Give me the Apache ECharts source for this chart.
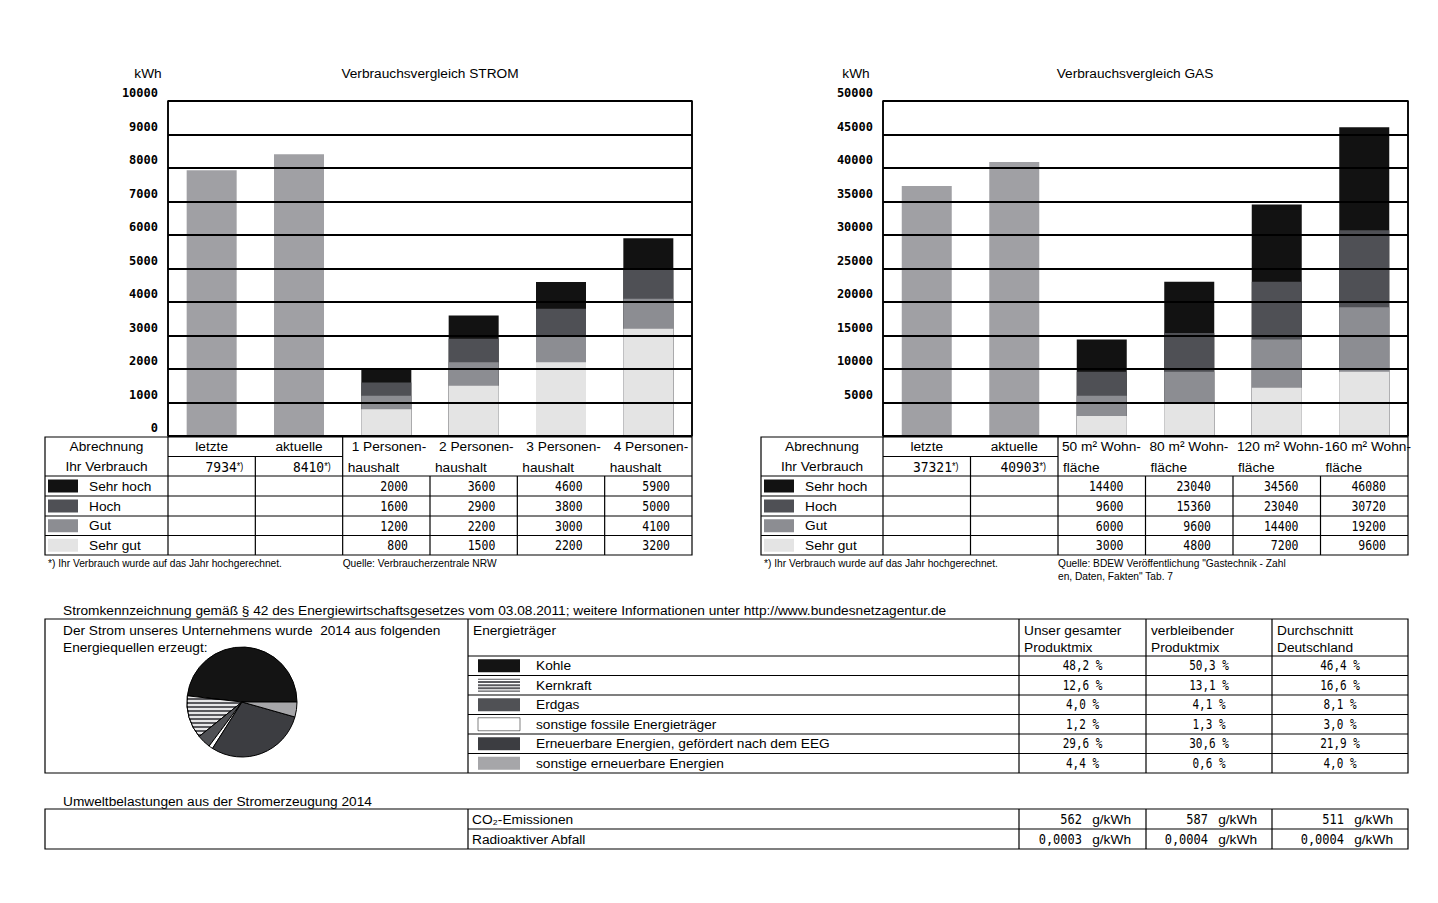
<!DOCTYPE html>
<html>
<head>
<meta charset="utf-8">
<title>Verbrauchsvergleich STROM / GAS und Stromkennzeichnung</title>
<script src="https://cdn.jsdelivr.net/npm/echarts@6/dist/echarts.min.js"></script>
<style>
  html, body { margin: 0; padding: 0; background: #fff; }
  #main { width: 1438px; height: 903px; }
</style>
</head>
<body>
<div id="main"></div>
<script>
// ---------- Daten ----------
const levels = ['Sehr hoch', 'Hoch', 'Gut', 'Sehr gut'];

const stromCategories = ['letzte', 'aktuelle', '1 Personen-\nhaushalt', '2 Personen-\nhaushalt', '3 Personen-\nhaushalt', '4 Personen-\nhaushalt'];
const stromIhrVerbrauch = [7934, 8410];
const stromSehrHoch = [2000, 3600, 4600, 5900];
const stromHoch = [1600, 2900, 3800, 5000];
const stromGut = [1200, 2200, 3000, 4100];
const stromSehrGut = [800, 1500, 2200, 3200];
const stromTicks = [0, 1000, 2000, 3000, 4000, 5000, 6000, 7000, 8000, 9000, 10000];

const gasCategories = ['letzte', 'aktuelle', '50 m² Wohn-\nfläche', '80 m² Wohn-\nfläche', '120 m² Wohn-\nfläche', '160 m² Wohn-\nfläche'];
const gasIhrVerbrauch = [37321, 40903];
const gasSehrHoch = [14400, 23040, 34560, 46080];
const gasHoch = [9600, 15360, 23040, 30720];
const gasGut = [6000, 9600, 14400, 19200];
const gasSehrGut = [3000, 4800, 7200, 9600];
const gasTicks = [0, 5000, 10000, 15000, 20000, 25000, 30000, 35000, 40000, 45000, 50000];

const mixNames = ['Kohle', 'Kernkraft', 'Erdgas', 'sonstige fossile Energieträger', 'Erneuerbare Energien, gefördert nach dem EEG', 'sonstige erneuerbare Energien'];
const mixColumns = ['Unser gesamter\nProduktmix', 'verbleibender\nProduktmix', 'Durchschnitt\nDeutschland'];
const mixUnser = [48.2, 12.6, 4.0, 1.2, 29.6, 4.4];
const mixVerbleibend = [50.3, 13.1, 4.1, 1.3, 30.6, 0.6];
const mixDeutschland = [46.4, 16.6, 8.1, 3.0, 21.9, 4.0];

const umweltNames = ['CO₂-Emissionen', 'Radioaktiver Abfall'];
const umweltUnser = ['562', '0,0003'];
const umweltVerbleibend = ['587', '0,0004'];
const umweltDeutschland = ['511', '0,0004'];

// ---------- Stil ----------
const SANS = '"Liberation Sans", Arial, sans-serif';
const MONO = '"DejaVu Sans Mono", "Liberation Mono", monospace';
const FS = 13.7;
const ihrColor = '#a0a0a4';
const levelColors = ['#121212', '#4f5055', '#8c8d92', '#e4e4e4'];
const mixColors = ['#141414', '#5a5a5e', '#505155', '#ffffff', '#3c3d41', '#a6a6a9'];

const graphics = [];

function addLine(x1, y1, x2, y2, w) {
  graphics.push({ type: 'line', silent: true, z: 30, shape: { x1, y1, x2, y2 },
    style: { stroke: '#000', lineWidth: w || 1.2 } });
}
function addBox(x, y, w, h, fill, lw) {
  graphics.push({ type: 'rect', silent: true, z: 30, shape: { x, y, width: w, height: h },
    style: { fill: fill || 'none', stroke: lw ? '#000' : null, lineWidth: lw || 0 } });
}
function addText(x, y, text, opt) {
  opt = opt || {};
  const style = {
    text, fill: '#000',
    fontSize: opt.size || FS, fontFamily: opt.family || SANS, fontWeight: opt.weight || 'normal',
    align: opt.align || 'left', verticalAlign: 'middle',
    textAlign: opt.align || 'left', textVerticalAlign: 'middle'
  };
  if (opt.rich) style.rich = opt.rich;
  const el = { type: 'text', silent: true, z: 31, x, y, style };
  if (opt.sy) { el.scaleY = opt.sy; el.originX = 0; el.originY = 0; }
  graphics.push(el);
}
// schmale, hohe Ziffern wie im Original
const num = (x, y, s, align, size) => addText(x, y, s, { align, family: MONO, size: size || 11.5, sy: 1.22 });
const pct = v => v.toFixed(1).replace('.', ',') + ' %';

// Tabelle unter den Balkendiagrammen
function drawConsumptionTable(x0, gridLeft, gridWidth, cats, ihr, values, hdrPad, foot, source) {
  const cw = gridWidth / cats.length;
  const cx = i => gridLeft + i * cw;
  const right = gridLeft + gridWidth;
  const ys = [437, 456.5, 476, 496, 516, 535.5, 555];
  const mid = r => (ys[r] + ys[r + 1]) / 2;

  addBox(x0, ys[0], right - x0, ys[6] - ys[0], null, 1.2);
  addLine(cx(0), ys[0], cx(0), ys[6]);
  addLine(cx(2), ys[0], cx(2), ys[6]);
  addLine(cx(1), ys[1], cx(1), ys[6]);
  addLine(cx(0), ys[1], cx(2), ys[1]);
  for (let r = 2; r < 6; r++) addLine(x0, ys[r], right, ys[r]);
  for (let i = 3; i < cats.length; i++) addLine(cx(i), ys[2], cx(i), ys[6]);

  addText((x0 + cx(0)) / 2, mid(0), 'Abrechnung', { align: 'center' });
  addText((x0 + cx(0)) / 2, mid(1), 'Ihr Verbrauch', { align: 'center' });

  cats.forEach((c, i) => {
    const parts = c.split('\n');
    if (parts.length === 1) {
      addText(cx(i) + cw / 2, mid(0), c, { align: 'center' });
    } else {
      addText(cx(i) + hdrPad, mid(0), parts[0]);
      addText(cx(i) + 5, mid(1) + 1, parts[1]);
    }
  });

  ihr.forEach((v, i) => {
    addText(cx(i + 1) - 12, mid(1), `{n|${v}}{s|*)}`, {
      align: 'right', sy: 1.15,
      rich: { n: { fontFamily: MONO, fontSize: 13, fill: '#000' }, s: { fontFamily: SANS, fontSize: 9, fill: '#000' } }
    });
  });

  levels.forEach((lv, r) => {
    addBox(x0 + 3, mid(r + 2) - 6.5, 30, 13, levelColors[r]);
    addText(x0 + 44, mid(r + 2), lv);
    values[r].forEach((v, i) => num(cx(i + 3) - 22, mid(r + 2), String(v), 'right'));
  });

  addText(x0 + 3, 563, foot, { size: 10.2 });
  source.forEach((s, k) => addText(cx(2), 563 + k * 13, s, { size: 10.2 }));
}

// Balkendiagramme
const stromGrid = { left: 168, top: 101, width: 524, height: 335 };
const gasGrid = { left: 883, top: 101, width: 525, height: 335 };

addText(148, 73, 'kWh', { align: 'center' });
addText(430, 73, 'Verbrauchsvergleich STROM', { align: 'center' });
addText(856, 73, 'kWh', { align: 'center' });
addText(1135, 73, 'Verbrauchsvergleich GAS', { align: 'center' });

drawConsumptionTable(45, stromGrid.left, stromGrid.width, stromCategories, stromIhrVerbrauch,
  [stromSehrHoch, stromHoch, stromGut, stromSehrGut], 9,
  '*) Ihr Verbrauch wurde auf das Jahr hochgerechnet.', ['Quelle: Verbraucherzentrale NRW']);
drawConsumptionTable(761, gasGrid.left, gasGrid.width, gasCategories, gasIhrVerbrauch,
  [gasSehrHoch, gasHoch, gasGut, gasSehrGut], 4,
  '*) Ihr Verbrauch wurde auf das Jahr hochgerechnet.',
  ['Quelle: BDEW Veröffentlichung "Gastechnik - Zahl', 'en, Daten, Fakten" Tab. 7']);

// Stromkennzeichnung
const mx = [45, 468, 1019, 1146, 1272, 1408];
const my = [619, 656, 675.5, 695, 714.5, 734, 753.5, 773];
addText(63, 610, 'Stromkennzeichnung gemäß § 42 des Energiewirtschaftsgesetzes vom 03.08.2011; weitere Informationen unter http://www.bundesnetzagentur.de');
addBox(mx[0], my[0], mx[5] - mx[0], my[7] - my[0], null, 1.2);
for (let c = 1; c < 5; c++) addLine(mx[c], my[0], mx[c], my[7]);
for (let r = 1; r < 7; r++) addLine(mx[1], my[r], mx[5], my[r]);
addText(63, 630, 'Der Strom unseres Unternehmens wurde  2014 aus folgenden');
addText(63, 647, 'Energiequellen erzeugt:');
addText(mx[1] + 5, 630, 'Energieträger');
mixColumns.forEach((h, c) => {
  h.split('\n').forEach((t, k) => addText(mx[c + 2] + 5, 630 + k * 17, t));
});
mixNames.forEach((n, r) => {
  const y = (my[r + 1] + my[r + 2]) / 2;
  addBox(mx[1] + 10, y - 6.5, 42, 13, mixColors[r], r === 3 ? 0.5 : 0);
  if (r === 1) {
    for (let k = 0; k < 4; k++) addBox(mx[1] + 10, y - 5.5 + k * 3.2, 42, 1.2, '#ffffff');
  }
  addText(mx[1] + 68, y, n);
  [mixUnser, mixVerbleibend, mixDeutschland].forEach((arr, c) => {
    num((mx[c + 2] + mx[c + 3]) / 2, y, pct(arr[r]), 'center', 11);
  });
});

// Umweltbelastungen
addText(63, 801, 'Umweltbelastungen aus der Stromerzeugung 2014');
addBox(mx[0], 809, mx[5] - mx[0], 40, null, 1.2);
for (let c = 1; c < 5; c++) addLine(mx[c], 809, mx[c], 849);
addLine(mx[1], 829, mx[5], 829);
umweltNames.forEach((n, r) => {
  const y = 819 + r * 20;
  addText(mx[1] + 4, y, n);
  [umweltUnser, umweltVerbleibend, umweltDeutschland].forEach((arr, c) => {
    addText(mx[c + 3] - 15, y, 'g/kWh', { align: 'right' });
    num(mx[c + 3] - 64, y, arr[r], 'right', 12);
  });
});

// ---------- Diagramm ----------
const dash = n => Array(n).fill('-');
function barSeries(name, data, color, idx) {
  return {
    name, type: 'bar', xAxisIndex: idx, yAxisIndex: idx, data,
    barWidth: 50, barGap: '-100%', itemStyle: { color }, silent: true
  };
}
function yAxisFor(idx, ticks, hideZero) {
  return {
    gridIndex: idx, type: 'value', z: 10,
    min: ticks[0], max: ticks[ticks.length - 1], interval: ticks[1] - ticks[0],
    axisLine: { show: false }, axisTick: { show: false },
    splitLine: { lineStyle: { color: '#000', width: 2 } },
    axisLabel: {
      color: '#000', fontFamily: MONO, fontSize: 12, fontWeight: 'bold', margin: 10,
      verticalAlign: 'bottom', padding: [0, 0, 2, 0],
      formatter: v => (hideZero && v === 0 ? '' : String(v))
    }
  };
}
function xAxisFor(idx, cats) {
  return {
    gridIndex: idx, type: 'category', data: cats, z: 10,
    axisLine: { show: false }, axisTick: { show: false }, axisLabel: { show: false },
    splitLine: { show: true, interval: i => i === 2, lineStyle: { color: '#000', width: 1.5 } }
  };
}

const chart = echarts.init(document.getElementById('main'), null, { renderer: 'svg' });
chart.setOption({
  animation: false,
  backgroundColor: '#fff',
  grid: [
    Object.assign({ show: true, borderColor: '#000', borderWidth: 1.5 }, stromGrid),
    Object.assign({ show: true, borderColor: '#000', borderWidth: 1.5 }, gasGrid)
  ],
  xAxis: [xAxisFor(0, stromCategories), xAxisFor(1, gasCategories)],
  yAxis: [yAxisFor(0, stromTicks, false), yAxisFor(1, gasTicks, true)],
  graphic: { elements: graphics },
  series: [
    barSeries('Ihr Verbrauch', stromIhrVerbrauch.concat(dash(4)), ihrColor, 0),
    barSeries('Sehr hoch', dash(2).concat(stromSehrHoch), levelColors[0], 0),
    barSeries('Hoch', dash(2).concat(stromHoch), levelColors[1], 0),
    barSeries('Gut', dash(2).concat(stromGut), levelColors[2], 0),
    barSeries('Sehr gut', dash(2).concat(stromSehrGut), levelColors[3], 0),
    barSeries('Ihr Verbrauch', gasIhrVerbrauch.concat(dash(4)), ihrColor, 1),
    barSeries('Sehr hoch', dash(2).concat(gasSehrHoch), levelColors[0], 1),
    barSeries('Hoch', dash(2).concat(gasHoch), levelColors[1], 1),
    barSeries('Gut', dash(2).concat(gasGut), levelColors[2], 1),
    barSeries('Sehr gut', dash(2).concat(gasSehrGut), levelColors[3], 1),
    {
      name: 'Energiequellen', type: 'pie', center: [242, 702], radius: 55,
      startAngle: 0, clockwise: false, silent: true,
      label: { show: false }, labelLine: { show: false },
      itemStyle: { borderColor: '#000', borderWidth: 1 },
      data: mixNames.map((n, i) => ({
        name: n, value: mixUnser[i],
        itemStyle: i === 1
          ? { color: mixColors[i], decal: { symbol: 'rect', symbolSize: 1, color: 'rgba(255,255,255,0.85)', dashArrayX: [10, 0], dashArrayY: [1.2, 2], rotation: 0 } }
          : { color: mixColors[i] }
      }))
    }
  ]
});
</script>
</body>
</html>
